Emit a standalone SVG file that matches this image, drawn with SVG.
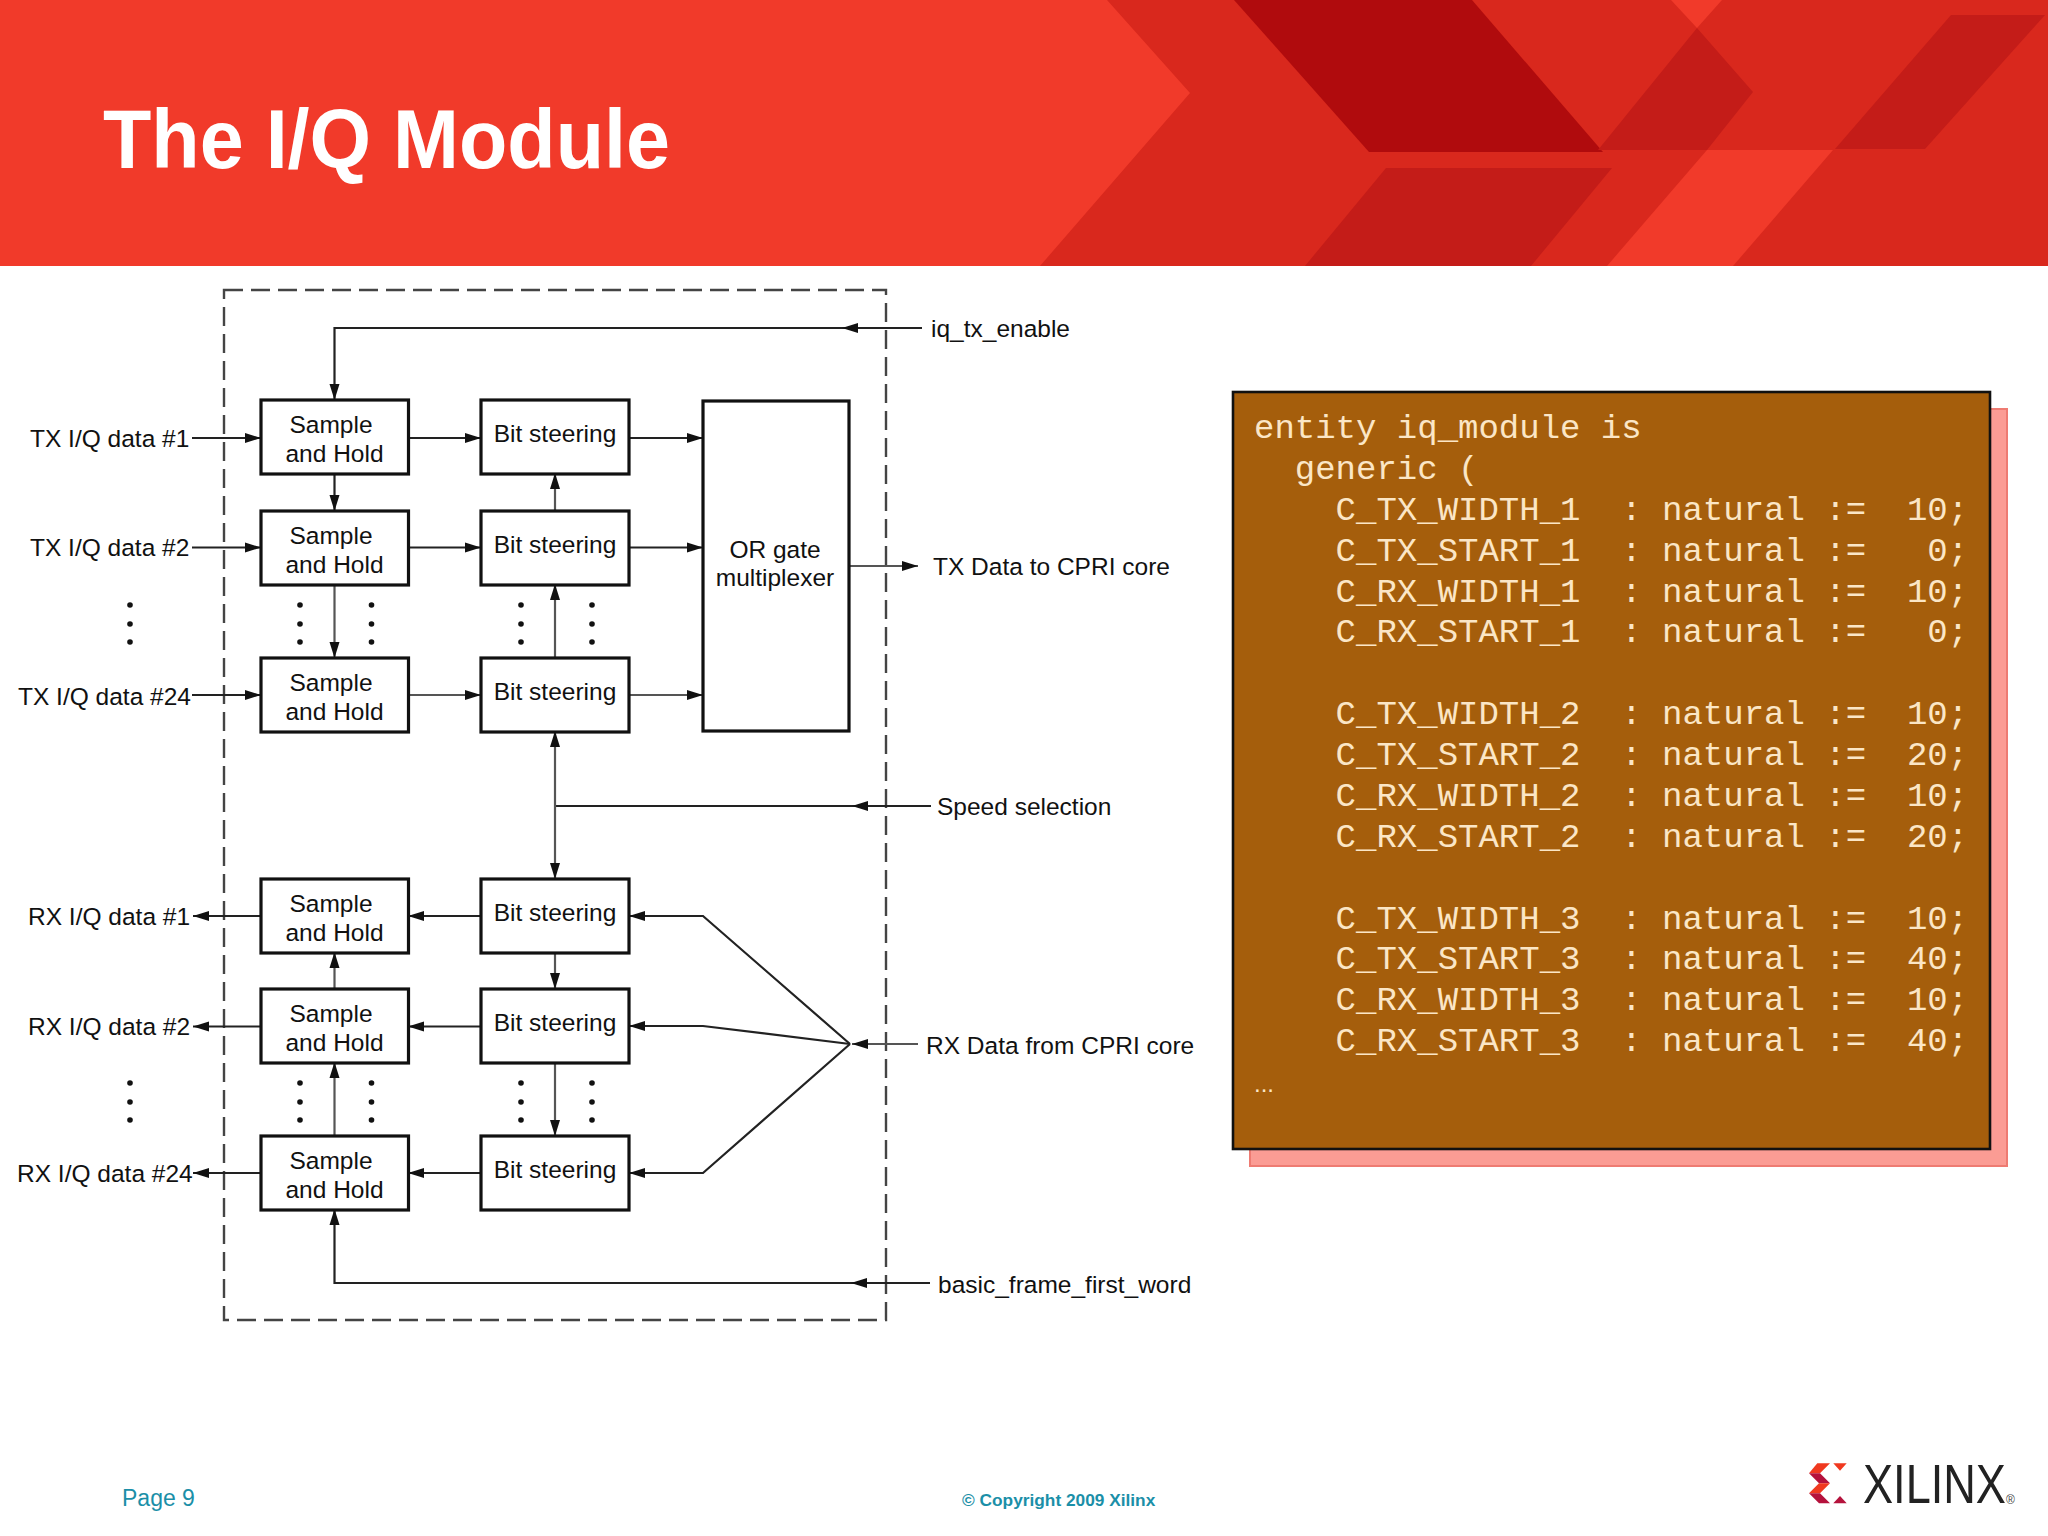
<svg xmlns="http://www.w3.org/2000/svg" width="2048" height="1536" viewBox="0 0 2048 1536">
<style>
.l{font-family:"Liberation Sans",Arial,sans-serif;font-size:24.5px;fill:#111}
.m{text-anchor:middle}
.box{fill:#fff;stroke:#111;stroke-width:3.2}
.c{fill:none;stroke:#222;stroke-width:2.2}
.g{fill:none;stroke:#555;stroke-width:2.2}
.code{font-family:"Liberation Mono","Courier New",monospace;font-size:34px;fill:#fbe6c6;white-space:pre}
.d{fill:#111}
.f{font-family:"Liberation Sans",Arial,sans-serif;fill:#1b8fa8}
</style>
<defs>
<marker id="a" markerUnits="userSpaceOnUse" markerWidth="17" markerHeight="11" refX="16" refY="5.5" orient="auto"><path d="M0,0.5L16,5.5L0,10.5Z" fill="#111"/></marker>
<marker id="s" markerUnits="userSpaceOnUse" markerWidth="17" markerHeight="11" refX="16" refY="5.5" orient="auto-start-reverse"><path d="M0,0.5L16,5.5L0,10.5Z" fill="#111"/></marker>
</defs>
<rect width="2048" height="1536" fill="#fff"/>
<g id="banner">
<rect width="2048" height="266" fill="#f13a2a"/>
<polygon points="1107,0 1190,93 1040,266 2048,266 2048,0" fill="#d9281d"/>
<polygon points="1671,0 1722,0 1697,28" fill="#f13a2a"/>
<polygon points="1707,150 1833,150 1733,266 1607,266" fill="#f13a2a"/>
<polygon points="1234,0 1472,0 1603,152 1369,152" fill="#b00b0d"/>
<polygon points="1386,168 1612,168 1531,266 1305,266" fill="#c41c18"/>
<polygon points="1697,28 1753,92 1707,150 1598,150" fill="#c41c18"/>
<polygon points="1951,15 2045,15 1925,149 1835,149" fill="#c41c18"/>
<text x="103" y="168" font-family="'Liberation Sans',Arial,sans-serif" font-weight="bold" font-size="83" fill="#fff" textLength="567" lengthAdjust="spacingAndGlyphs">The I/Q Module</text>
</g>
<g id="boundary"><rect x="224" y="290" width="662" height="1030" fill="none" stroke="#444" stroke-width="2.4" stroke-dasharray="19 8"/></g>
<g id="connectors">
<path class="c" d="M922,328H842" marker-end="url(#a)"/><path class="c" d="M842,328H334.5V400" marker-end="url(#a)"/>
<path class="c" d="M192,438H261" marker-end="url(#a)"/>
<path class="c" d="M192,547.5H261" marker-end="url(#a)"/>
<path class="c" d="M192,695H261" marker-end="url(#a)"/>
<path class="c" d="M408,438H481" marker-end="url(#a)"/>
<path class="c" d="M408,547.5H481" marker-end="url(#a)"/>
<path class="g" d="M408,695H481" marker-end="url(#a)"/>
<path class="c" d="M629,438H703" marker-end="url(#a)"/>
<path class="c" d="M629,547.5H703" marker-end="url(#a)"/>
<path class="g" d="M629,695H703" marker-end="url(#a)"/>
<path class="c" d="M334.5,473V511" marker-end="url(#a)"/>
<path class="g" d="M334.5,584V658" marker-end="url(#a)"/>
<path class="g" d="M555,511V473" marker-end="url(#a)"/>
<path class="g" d="M555,658V584" marker-end="url(#a)"/>
<path class="g" d="M849,566H918" marker-end="url(#a)"/>
<path class="c" d="M931,806H852" marker-end="url(#a)"/><path class="c" d="M852,806H555"/>
<path class="g" d="M555,731V879" marker-start="url(#s)" marker-end="url(#s)"/>
<path class="c" d="M481,916H408" marker-end="url(#a)"/>
<path class="c" d="M481,1026.5H408" marker-end="url(#a)"/>
<path class="c" d="M481,1173H408" marker-end="url(#a)"/>
<path class="c" d="M261,916H193" marker-end="url(#a)"/>
<path class="c" d="M261,1026.5H193" marker-end="url(#a)"/>
<path class="c" d="M261,1173H193" marker-end="url(#a)"/>
<path class="g" d="M334.5,989V952" marker-end="url(#a)"/>
<path class="g" d="M334.5,1136V1062" marker-end="url(#a)"/>
<path class="g" d="M555,952V989" marker-end="url(#a)"/>
<path class="g" d="M555,1062V1136" marker-end="url(#a)"/>
<path class="g" d="M918,1044H852" marker-end="url(#a)" stroke-width="3"/>
<path class="c" d="M850,1044L703,916H629" marker-end="url(#a)"/>
<path class="c" d="M850,1044L703,1026H629" marker-end="url(#a)"/>
<path class="c" d="M850,1044L703,1173H629" marker-end="url(#a)"/>
<path class="c" d="M930,1283H851" marker-end="url(#a)"/><path class="c" d="M851,1283H334.5V1209" marker-end="url(#a)"/>
</g>
<g id="dots">
<g class="d">
<circle cx="130" cy="605" r="2.8"/><circle cx="130" cy="624" r="2.8"/><circle cx="130" cy="642" r="2.8"/>
<circle cx="300" cy="605" r="2.8"/><circle cx="300" cy="624" r="2.8"/><circle cx="300" cy="642" r="2.8"/>
<circle cx="371.5" cy="605" r="2.8"/><circle cx="371.5" cy="624" r="2.8"/><circle cx="371.5" cy="642" r="2.8"/>
<circle cx="521" cy="605" r="2.8"/><circle cx="521" cy="624" r="2.8"/><circle cx="521" cy="642" r="2.8"/>
<circle cx="592" cy="605" r="2.8"/><circle cx="592" cy="624" r="2.8"/><circle cx="592" cy="642" r="2.8"/>
<circle cx="130" cy="1083" r="2.8"/><circle cx="130" cy="1102" r="2.8"/><circle cx="130" cy="1120" r="2.8"/>
<circle cx="300" cy="1083" r="2.8"/><circle cx="300" cy="1102" r="2.8"/><circle cx="300" cy="1120" r="2.8"/>
<circle cx="371.5" cy="1083" r="2.8"/><circle cx="371.5" cy="1102" r="2.8"/><circle cx="371.5" cy="1120" r="2.8"/>
<circle cx="521" cy="1083" r="2.8"/><circle cx="521" cy="1102" r="2.8"/><circle cx="521" cy="1120" r="2.8"/>
<circle cx="592" cy="1083" r="2.8"/><circle cx="592" cy="1102" r="2.8"/><circle cx="592" cy="1120" r="2.8"/>
</g>
</g>
<g id="sh1"><rect class="box" x="261" y="400" width="147.5" height="74"/><text class="l m" x="331" y="433">Sample</text><text class="l m" x="334.5" y="462">and Hold</text></g>
<g id="sh2"><rect class="box" x="261" y="511" width="147.5" height="74"/><text class="l m" x="331" y="544">Sample</text><text class="l m" x="334.5" y="573">and Hold</text></g>
<g id="sh3"><rect class="box" x="261" y="658" width="147.5" height="74"/><text class="l m" x="331" y="691">Sample</text><text class="l m" x="334.5" y="720">and Hold</text></g>
<g id="sh4"><rect class="box" x="261" y="879" width="147.5" height="74"/><text class="l m" x="331" y="912">Sample</text><text class="l m" x="334.5" y="941">and Hold</text></g>
<g id="sh5"><rect class="box" x="261" y="989" width="147.5" height="74"/><text class="l m" x="331" y="1022">Sample</text><text class="l m" x="334.5" y="1051">and Hold</text></g>
<g id="sh6"><rect class="box" x="261" y="1136" width="147.5" height="74"/><text class="l m" x="331" y="1169">Sample</text><text class="l m" x="334.5" y="1198">and Hold</text></g>
<g id="bs1"><rect class="box" x="481" y="400" width="148" height="74"/><text class="l m" x="555" y="442">Bit steering</text></g>
<g id="bs2"><rect class="box" x="481" y="511" width="148" height="74"/><text class="l m" x="555" y="553">Bit steering</text></g>
<g id="bs3"><rect class="box" x="481" y="658" width="148" height="74"/><text class="l m" x="555" y="700">Bit steering</text></g>
<g id="bs4"><rect class="box" x="481" y="879" width="148" height="74"/><text class="l m" x="555" y="921">Bit steering</text></g>
<g id="bs5"><rect class="box" x="481" y="989" width="148" height="74"/><text class="l m" x="555" y="1031">Bit steering</text></g>
<g id="bs6"><rect class="box" x="481" y="1136" width="148" height="74"/><text class="l m" x="555" y="1178">Bit steering</text></g>
<g id="orgate"><rect class="box" x="703" y="401" width="146" height="330"/><text class="l m" x="775" y="558">OR gate</text><text class="l m" x="775" y="586">multiplexer</text></g>
<g id="labels">
<text class="l" x="30" y="447">TX I/Q data #1</text>
<text class="l" x="30" y="556">TX I/Q data #2</text>
<text class="l" x="18" y="705">TX I/Q data #24</text>
<text class="l" x="28" y="925">RX I/Q data #1</text>
<text class="l" x="28" y="1035">RX I/Q data #2</text>
<text class="l" x="17" y="1182">RX I/Q data #24</text>
<text class="l" x="931" y="337">iq_tx_enable</text>
<text class="l" x="933" y="575">TX Data to CPRI core</text>
<text class="l" x="937" y="815">Speed selection</text>
<text class="l" x="926" y="1054">RX Data from CPRI core</text>
<text class="l" x="938" y="1293">basic_frame_first_word</text>
</g>
<g id="codebox">
<rect x="1250" y="409" width="757" height="757" fill="#fb9c94" stroke="#ee7b72" stroke-width="2"/>
<rect x="1233" y="392" width="757" height="757" fill="#a55e0c" stroke="#111" stroke-width="2.6"/>
<text class="code" x="1254" y="438">entity iq_module is</text>
<text class="code" x="1254" y="479">  generic (</text>
<text class="code" x="1254" y="520">    C_TX_WIDTH_1  : natural :=  10;</text>
<text class="code" x="1254" y="561">    C_TX_START_1  : natural :=   0;</text>
<text class="code" x="1254" y="602">    C_RX_WIDTH_1  : natural :=  10;</text>
<text class="code" x="1254" y="642">    C_RX_START_1  : natural :=   0;</text>
<text class="code" x="1254" y="724">    C_TX_WIDTH_2  : natural :=  10;</text>
<text class="code" x="1254" y="765">    C_TX_START_2  : natural :=  20;</text>
<text class="code" x="1254" y="806">    C_RX_WIDTH_2  : natural :=  10;</text>
<text class="code" x="1254" y="847">    C_RX_START_2  : natural :=  20;</text>
<text class="code" x="1254" y="929">    C_TX_WIDTH_3  : natural :=  10;</text>
<text class="code" x="1254" y="969">    C_TX_START_3  : natural :=  40;</text>
<text class="code" x="1254" y="1010">    C_RX_WIDTH_3  : natural :=  10;</text>
<text class="code" x="1254" y="1051">    C_RX_START_3  : natural :=  40;</text>
<text x="1254" y="1092" font-family="'Liberation Sans',Arial,sans-serif" font-size="24" fill="#fbe6c6">...</text>
</g>
<g id="footer">
<text class="f" x="122" y="1506" font-size="23">Page 9</text>
<text class="f" x="962" y="1506" font-size="17.3" font-weight="bold">© Copyright 2009 Xilinx</text>
</g>
<g id="logo">
<polygon points="1817.3,1463.3 1830,1463.3 1820,1473.3 1809,1473.3" fill="#f0391f"/>
<polygon points="1809,1473.3 1820,1473.3 1830,1483.3 1819,1483.3" fill="#b5123c"/>
<polygon points="1819,1483.3 1830,1483.3 1820,1493.3 1809,1493.3" fill="#f0391f"/>
<polygon points="1809,1493.3 1820,1493.3 1830,1503.3 1819,1503.3" fill="#b5123c"/>
<polygon points="1833.3,1463.3 1846.7,1463.3 1840,1470.7" fill="#f0391f"/>
<polygon points="1833.3,1503.3 1846.7,1503.3 1840,1496" fill="#b5123c"/>
<text transform="translate(1863,1503) scale(.806,1)" font-family="'Liberation Sans',Arial,sans-serif" font-size="56" fill="#222">XILINX</text>
<text x="2006" y="1504" font-family="'Liberation Sans',Arial,sans-serif" font-size="12" fill="#444">®</text>
</g>
</svg>
